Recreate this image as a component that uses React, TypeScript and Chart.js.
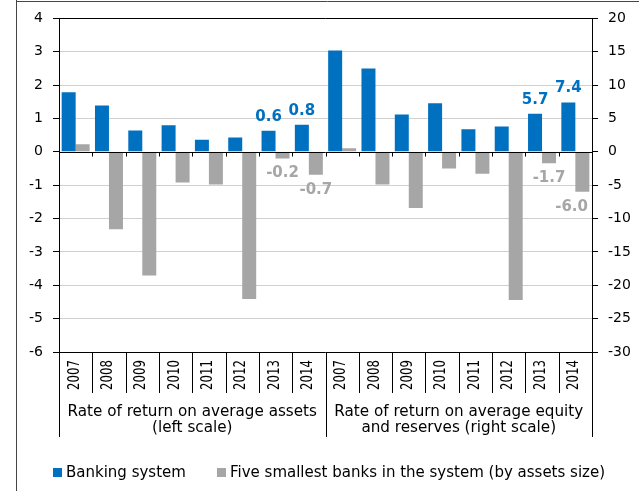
import { useEffect, useRef } from 'react';
import { Chart, registerables } from 'chart.js';

Chart.register(...registerables);

// ---- data ----
const years = ['2007', '2008', '2009', '2010', '2011', '2012', '2013', '2014'];
const groupTitles = [
  ['Rate of return on average assets', '(left scale)'],
  ['Rate of return on average equity', 'and reserves (right scale)'],
];
const seriesNames = ['Banking system', 'Five smallest banks in the system (by assets size)'];
const bankingROA = [1.79, 1.39, 0.64, 0.8, 0.36, 0.43, 0.63, 0.81];
const smallestROA = [0.23, -2.32, -3.71, -0.92, -0.98, -4.41, -0.2, -0.69];
const bankingROE = [15.2, 12.5, 5.6, 7.3, 3.4, 3.8, 5.7, 7.4];
const smallestROE = [0.55, -4.9, -8.4, -2.5, -3.3, -22.2, -1.7, -6.0];
const labelledYears = ['2013', '2014'];
const leftRange = { min: -6, max: 4, step: 1 };
const rightRange = { min: -30, max: 20, step: 5 };

const BLUE = '#0070C0';
const GRAY = '#A6A6A6';
const FONT = "'DejaVu Sans', Verdana, sans-serif";

const firstGroup = (arr: number[]) => [...arr, ...arr.map(() => null)];
const secondGroup = (arr: number[]) => [...arr.map(() => null), ...arr];

const decor = {
  id: 'decor',
  afterDatasetsDraw(chart: any) {
    const { ctx, chartArea: ca, scales } = chart;
    const n = chart.data.labels.length;
    const cw = (ca.right - ca.left) / n;
    ctx.save();
    ctx.strokeStyle = '#000';
    ctx.lineWidth = 1;
    ctx.beginPath();
    const y0 = Math.round(scales.y.getPixelForValue(0)) + 0.5;
    ctx.moveTo(ca.left, y0);
    ctx.lineTo(ca.right, y0);
    for (let i = 1; i < n; i++) {
      const xb = Math.round(ca.left + i * cw) + 0.5;
      ctx.moveTo(xb, y0);
      ctx.lineTo(xb, y0 + 4);
    }
    const t = Math.round(ca.top) + 0.5;
    const b = Math.round(ca.bottom) + 0.5;
    ctx.moveTo(ca.left, t);
    ctx.lineTo(ca.right, t);
    ctx.moveTo(ca.left, b);
    ctx.lineTo(ca.right, b);
    ctx.stroke();

    // value labels
    ctx.font = `bold 15px ${FONT}`;
    ctx.textAlign = 'center';
    ctx.textBaseline = 'middle';
    chart.data.datasets.forEach((ds: any, d: number) => {
      const meta = chart.getDatasetMeta(d);
      ds.data.forEach((v: number | null, i: number) => {
        if (v === null || !labelledYears.includes(chart.data.labels[i])) return;
        const el = meta.data[i];
        const txt = v.toFixed(1);
        const w = ctx.measureText(txt).width;
        let x = el.x;
        if (x + w / 2 > ca.right - 4) x = ca.right - 4 - w / 2;
        const y = v >= 0 ? el.y - 14 : el.y + 15;
        ctx.fillStyle = ds.backgroundColor;
        ctx.fillText(txt, x, y);
      });
    });
    ctx.restore();
  },
  afterDraw(chart: any) {
    const { ctx, chartArea: ca } = chart;
    const labels = chart.data.labels;
    const n = labels.length;
    const cw = (ca.right - ca.left) / n;
    ctx.save();
    ctx.strokeStyle = '#000';
    ctx.lineWidth = 1;
    ctx.beginPath();
    for (let i = 0; i <= n; i++) {
      const xb = Math.round(ca.left + i * cw) + 0.5;
      const len = i % years.length === 0 ? 85 : 41;
      ctx.moveTo(xb, ca.bottom);
      ctx.lineTo(xb, ca.bottom + len);
    }
    ctx.stroke();

    // years
    ctx.fillStyle = '#000';
    ctx.font = `14px ${FONT}`;
    ctx.textAlign = 'right';
    ctx.textBaseline = 'middle';
    for (let i = 0; i < n; i++) {
      const cx = ca.left + (i + 0.5) * cw - 1;
      ctx.save();
      ctx.translate(cx, ca.bottom + 8);
      ctx.rotate(-Math.PI / 2);
      ctx.scale(0.84, 1.14);
      ctx.fillText(labels[i], 0, 0);
      ctx.restore();
    }

    // group titles
    ctx.font = `15.2px ${FONT}`;
    ctx.textAlign = 'center';
    ctx.textBaseline = 'alphabetic';
    groupTitles.forEach((lines, g) => {
      const cx = ca.left + (g + 0.5) * years.length * cw;
      lines.forEach((line, k) => ctx.fillText(line, cx, ca.bottom + 63.5 + k * 16.5));
    });

    // legend
    ctx.font = `15px ${FONT}`;
    ctx.textAlign = 'left';
    ctx.textBaseline = 'middle';
    const legendX = [53, 217];
    const colors = [BLUE, GRAY];
    seriesNames.forEach((name, k) => {
      ctx.fillStyle = colors[k];
      ctx.fillRect(legendX[k], 468, 9, 9);
      ctx.fillStyle = '#000';
      ctx.fillText(name, legendX[k] + 13, 473);
    });

    // outer frame remnants
    ctx.strokeStyle = '#444';
    ctx.beginPath();
    ctx.moveTo(16.5, 0);
    ctx.lineTo(16.5, 491);
    ctx.moveTo(16, 1.5);
    ctx.lineTo(639, 1.5);
    ctx.stroke();
    ctx.restore();
  },
};

export default function App() {
  const ref = useRef<HTMLCanvasElement>(null);
  useEffect(() => {
    if (!ref.current) return;
    Chart.defaults.font.family = FONT;
    const common = { borderWidth: 0, categoryPercentage: 0.84, barPercentage: 1, skipNull: true };
    const chart = new Chart(ref.current, {
      type: 'bar',
      data: {
        labels: [...years, ...years],
        datasets: [
          { ...common, label: seriesNames[0], data: firstGroup(bankingROA), backgroundColor: BLUE, yAxisID: 'y' },
          { ...common, label: seriesNames[1], data: firstGroup(smallestROA), backgroundColor: GRAY, yAxisID: 'y' },
          { ...common, label: seriesNames[0], data: secondGroup(bankingROE), backgroundColor: BLUE, yAxisID: 'y1' },
          { ...common, label: seriesNames[1], data: secondGroup(smallestROE), backgroundColor: GRAY, yAxisID: 'y1' },
        ] as any,
      },
      options: {
        responsive: false,
        animation: false,
        layout: { padding: { top: 17, bottom: 139, left: 0, right: 0 } },
        plugins: { legend: { display: false }, tooltip: { enabled: false } },
        scales: {
          x: { display: false },
          y: {
            position: 'left',
            min: leftRange.min,
            max: leftRange.max,
            ticks: { stepSize: leftRange.step, color: '#000', font: { size: 14 }, padding: 10 },
            grid: {
              color: (c: any) => (c.tick && c.tick.value === 0 ? 'rgba(0,0,0,0)' : '#d0d0d0'),
              tickColor: '#000',
              tickLength: 6,
            },
            border: { color: '#000' },
            afterFit: (s: any) => { s.width = 59; },
          },
          y1: {
            position: 'right',
            min: rightRange.min,
            max: rightRange.max,
            ticks: { stepSize: rightRange.step, color: '#000', font: { size: 14 }, padding: 10 },
            grid: { drawOnChartArea: false, tickColor: '#000', tickLength: 6 },
            border: { color: '#000' },
            afterFit: (s: any) => { s.width = 47; },
          },
        } as any,
      },
      plugins: [decor],
    });
    return () => chart.destroy();
  }, []);
  return (
    <div style={{ position: 'absolute', left: 0, top: 0, width: 639, height: 491, background: '#fff' }}>
      <canvas ref={ref} width={639} height={491} style={{ display: 'block' }} />
    </div>
  );
}
